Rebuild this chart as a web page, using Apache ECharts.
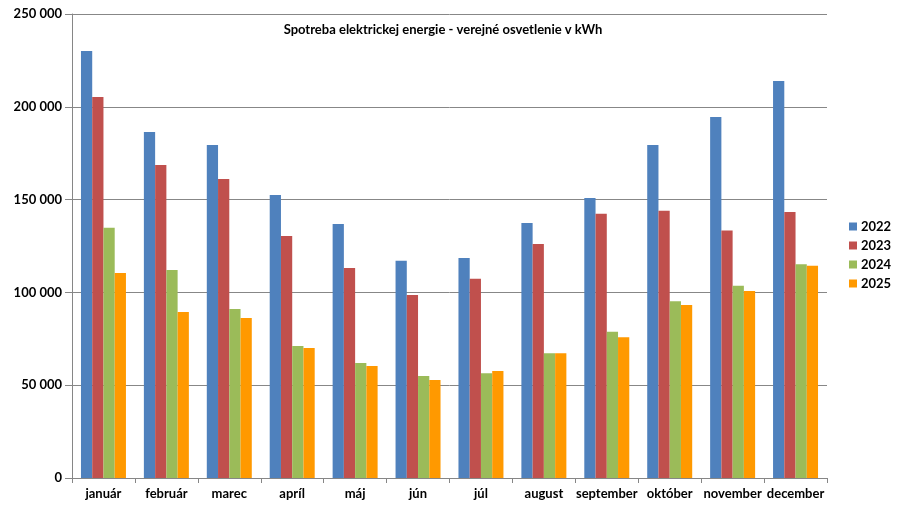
<!DOCTYPE html>
<html>
<head>
<meta charset="utf-8">
<script src="https://cdn.jsdelivr.net/npm/echarts@6/dist/echarts.min.js"></script>
<style>
html,body{margin:0;padding:0;background:#fff;}
#c{width:900px;height:508px;}
</style>
</head>
<body>
<div id="c"></div>
<script>
const months = ['január','február','marec','apríl','máj','jún','júl','august','september','október','november','december'];
const years = ['2022','2023','2024','2025'];
const v2022 = [230000,186400,179400,152500,136900,117000,118600,137400,150900,179400,194500,213900];
const v2023 = [205300,168600,161100,130400,113200,98600,107400,126100,142400,144000,133400,143300];
const v2024 = [134900,112100,91100,71100,62000,55000,56400,67200,78800,95200,103600,115100];
const v2025 = [110400,89500,86200,70100,60300,52800,57700,67200,75800,93200,100700,114400];
const yTicks = [0,50000,100000,150000,200000,250000];
const colors = ['#4F81BD','#C0504D','#9BBB59','#FF9900'];
const values = [v2022,v2023,v2024,v2025];

const chart = echarts.init(document.getElementById('c'));
const font = 'Lato';
chart.setOption({
  animation:false,
  backgroundColor:'#fff',
  title:{
    text:'Spotreba elektrickej energie - verejné osvetlenie v kWh',
    left:443, top:23, textAlign:'center', padding:0,
    textStyle:{fontFamily:font,fontSize:13,fontWeight:'bold',color:'#000'}
  },
  legend:{
    orient:'vertical', left:849, top:220, padding:0,
    itemWidth:8, itemHeight:8, itemGap:6,
    icon:'rect',
    textStyle:{fontFamily:font,fontSize:13,fontWeight:'bold',color:'#000',lineHeight:12,padding:[0,0,0,-1]},
    data:years
  },
  grid:{left:72,right:73,top:14,bottom:30,containLabel:false},
  xAxis:{
    type:'category', data:months, boundaryGap:true,
    axisLine:{lineStyle:{color:'#868686',width:1}},
    axisTick:{show:true,length:5,lineStyle:{color:'#868686'}},
    axisLabel:{fontFamily:font,fontSize:13,fontWeight:'bold',color:'#000',margin:9,interval:0}
  },
  yAxis:{
    type:'value', min:yTicks[0], max:yTicks[yTicks.length-1], interval:50000,
    axisLine:{show:true,lineStyle:{color:'#868686',width:1}},
    axisTick:{show:true,length:7,lineStyle:{color:'#868686'}},
    splitLine:{lineStyle:{color:'#878787',width:1}},
    axisLabel:{fontFamily:font,fontSize:13,fontWeight:'bold',color:'#000',margin:10,
      formatter:v=>String(v).replace(/\B(?=(\d{3})+(?!\d))/g,' ')}
  },
  series: years.map((y,i)=>({
    name:y, type:'bar', data:values[i],
    barGap:'0%', barCategoryGap:'28.5%',
    itemStyle:{color:colors[i]}
  }))
});
</script>
</body>
</html>
